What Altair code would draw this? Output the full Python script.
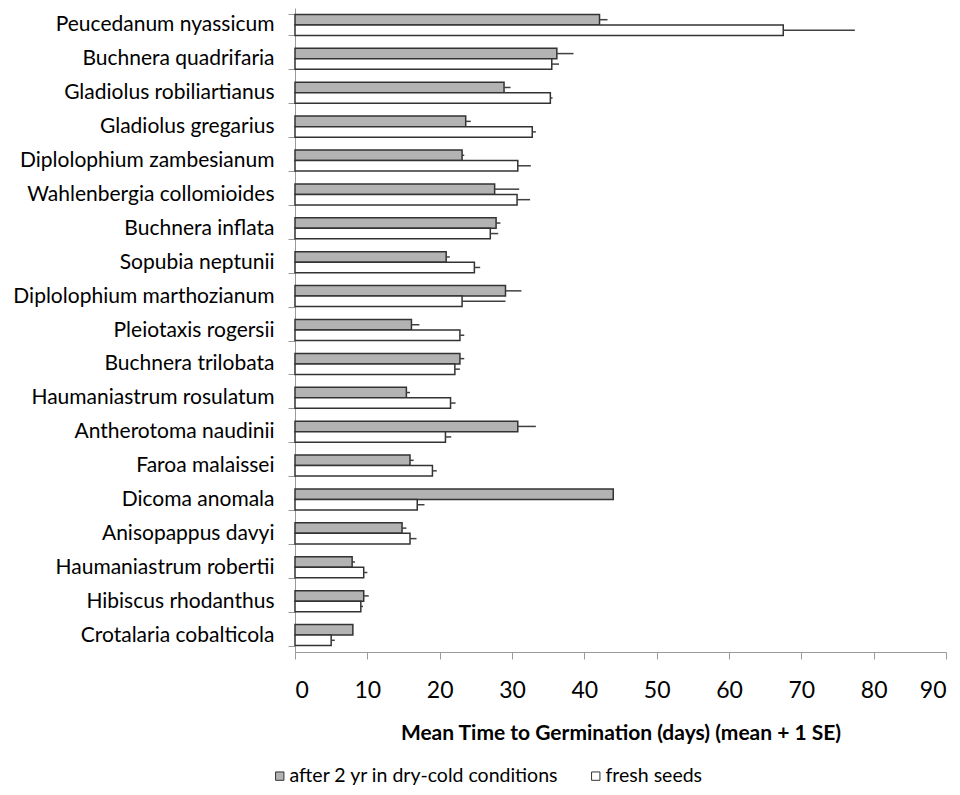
import altair as alt
import pandas as pd

species = [
    "Peucedanum nyassicum", "Buchnera quadrifaria", "Gladiolus robiliartianus",
    "Gladiolus gregarius", "Diplolophium zambesianum", "Wahlenbergia collomioides",
    "Buchnera inflata", "Sopubia neptunii", "Diplolophium marthozianum",
    "Pleiotaxis rogersii", "Buchnera trilobata", "Haumaniastrum rosulatum",
    "Antherotoma naudinii", "Faroa malaissei", "Dicoma anomala",
    "Anisopappus davyi", "Haumaniastrum robertii", "Hibiscus rhodanthus",
    "Crotalaria cobalticola",
]
series_names = ["after 2 yr in dry-cold conditions", "fresh seeds"]

stored_mean = [42.1, 36.2, 28.9, 23.6, 23.1, 27.6, 27.8, 20.9, 29.1, 16.1,
               22.8, 15.4, 30.8, 15.9, 44.0, 14.8, 7.9, 9.5, 8.0]
stored_se = [1.1, 2.3, 0.9, 0.7, 0.3, 3.4, 0.6, 0.5, 2.2, 1.1,
             0.6, 0.5, 2.5, 0.5, 0.0, 0.6, 0.4, 0.7, 0.0]
fresh_mean = [67.5, 35.5, 35.3, 32.8, 30.8, 30.7, 27.0, 24.8, 23.1, 22.8,
              22.1, 21.5, 20.8, 19.0, 16.9, 15.9, 9.5, 9.1, 5.0]
fresh_se = [9.9, 1.0, 0.3, 0.5, 1.8, 1.8, 1.1, 0.8, 6.0, 0.6,
            0.7, 0.7, 0.8, 0.6, 1.0, 0.9, 0.5, 0.3, 0.5]

rows = []
for i, sp in enumerate(species):
    rows.append({"species": sp, "series": series_names[0],
                 "mean": stored_mean[i], "upper": stored_mean[i] + stored_se[i]})
    rows.append({"species": sp, "series": series_names[1],
                 "mean": fresh_mean[i], "upper": fresh_mean[i] + fresh_se[i]})
df = pd.DataFrame(rows)

FONT = "Lato"

y_enc = alt.Y("species:N", sort=species, title=None,
              scale=alt.Scale(domain=species, paddingInner=0.38, paddingOuter=0.19),
              axis=alt.Axis(tickBand="extent", tickSize=7, tickColor="#9a9a9a",
                            domainColor="#9a9a9a", labelFontSize=21, labelFont=FONT,
                            labelColor="#000000", labelLimit=400, labelPadding=14))
yoff = alt.YOffset("series:N", sort=series_names,
                   scale=alt.Scale(domain=series_names, paddingInner=0, paddingOuter=0))

x_enc = alt.X("mean:Q", title="Mean Time to Germination (days) (mean + 1 SE)",
              scale=alt.Scale(domain=[0, 90], nice=False),
              axis=alt.Axis(values=list(range(0, 91, 10)), grid=False, tickSize=7,
                            tickColor="#9a9a9a", domainColor="#9a9a9a",
                            labelFontSize=23, labelFont=FONT, labelColor="#000000",
                            labelPadding=20, titleFont=FONT, titleFontSize=21,
                            titleFontWeight="bold", titleColor="#000000",
                            titlePadding=20))

bars = alt.Chart(df).mark_bar(stroke="#333333", strokeWidth=1.5).encode(
    y=y_enc,
    yOffset=yoff,
    x=x_enc,
    color=alt.Color("series:N", sort=series_names,
                    scale=alt.Scale(domain=series_names, range=["#b3b3b3", "#ffffff"]),
                    legend=alt.Legend(title=None, orient="none", direction="horizontal",
                                      legendX=-25, legendY=758, symbolType="square",
                                      symbolSize=70, symbolStrokeColor="#333333",
                                      symbolStrokeWidth=1, labelFont=FONT,
                                      labelFontSize=19.5, labelColor="#000000",
                                      labelLimit=0, labelOffset=0, columnPadding=27)),
)

err = alt.Chart(df).mark_rule(color="#404040", strokeWidth=1.5).encode(
    y=alt.Y("species:N", sort=species),
    yOffset=yoff,
    x=alt.X("mean:Q"),
    x2="upper:Q",
)

chart = alt.layer(bars, err).properties(
    width=651, height=644,
    autosize=alt.AutoSizeParams(type="none"),
    padding={"left": 287, "top": 0, "right": 6, "bottom": 140},
).configure_view(stroke=None)

chart.save("out.html", embed_options={"renderer": "svg", "actions": False})
